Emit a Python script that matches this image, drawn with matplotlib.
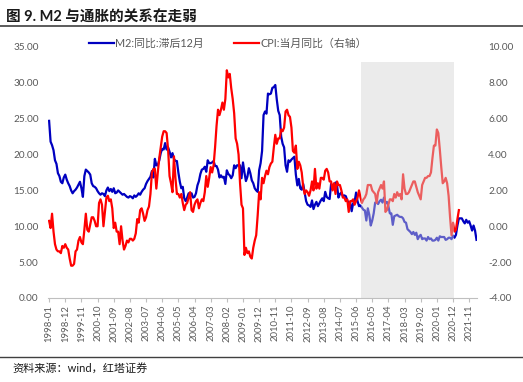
import numpy as np
import pandas as pd
import matplotlib
matplotlib.use('Agg')
import matplotlib.pyplot as plt
from matplotlib.lines import Line2D

plt.rcParams['font.family'] = ['Lato', 'Noto Sans CJK SC', 'DejaVu Sans']
plt.rcParams['axes.unicode_minus'] = False

# 月份：1998-01 ~ 2022-04
dates = pd.period_range('1998-01', '2022-04', freq='M').strftime('%Y-%m').tolist()

# M2 同比，滞后12个月（按绘图年份排列）
m2_lag = [
    24.7, 21.8, 21.3, 20.6, 19.2, 18.7, 17.4, 17.0, 16.2, 16.0, 16.8, 17.2,
    16.5, 16.0, 15.6, 15.0, 14.6, 14.9, 15.1, 15.4, 15.8, 16.2, 15.3, 14.1,
    17.0, 17.9, 17.7, 17.5, 17.2, 16.0, 15.6, 15.5, 15.3, 14.9, 14.6, 14.4,
    14.6, 14.5, 14.2, 15.0, 15.4, 14.9, 15.2, 14.8, 15.3, 14.6, 14.7, 15.0,
    14.8, 14.6, 14.4, 14.5, 14.3, 14.1, 14.0, 14.2, 14.1, 13.9, 14.3, 14.1,
    14.3, 14.6, 14.4, 14.8, 15.1, 15.3, 15.9, 16.3, 16.6, 16.9, 17.7, 16.8,
    19.4, 18.5, 18.5, 19.2, 20.2, 20.8, 20.7, 21.6, 20.7, 21.0, 20.4, 19.6,
    20.2, 19.4, 19.1, 19.1, 17.5, 16.2, 15.3, 15.5, 13.9, 13.5, 14.0, 14.6,
    14.1, 14.6, 14.0, 14.1, 14.6, 15.7, 16.3, 17.3, 17.9, 18.0, 18.3, 17.6,
    19.2, 18.8, 18.8, 18.9, 19.1, 18.4, 18.4, 17.9, 16.8, 17.1, 16.8, 16.9,
    15.9, 17.8, 17.3, 17.1, 16.7, 17.1, 18.5, 18.1, 18.5, 18.5, 18.5, 16.7,
    18.9, 17.5, 16.3, 16.9, 18.1, 17.4, 16.4, 16.0, 15.3, 15.0, 14.8, 17.8,
    18.8, 20.5, 25.5, 26.0, 25.7, 28.5, 28.4, 28.5, 29.3, 29.4, 29.7, 27.7,
    26.1, 25.5, 22.5, 21.5, 21.0, 18.5, 17.6, 19.2, 19.0, 19.3, 19.5, 19.7,
    17.2, 15.7, 16.6, 15.3, 15.1, 15.9, 14.7, 13.5, 13.0, 12.9, 12.7, 13.6,
    12.4, 13.0, 13.4, 12.8, 13.2, 13.6, 13.9, 13.5, 14.8, 14.1, 13.9, 13.8,
    15.9, 15.2, 15.7, 16.1, 15.8, 14.0, 14.5, 14.7, 14.2, 14.3, 14.2, 13.6,
    13.2, 13.3, 12.1, 13.2, 13.4, 14.7, 13.5, 12.8, 12.9, 12.6, 12.3, 12.2,
    10.8, 12.5, 11.6, 10.1, 10.8, 11.8, 13.3, 13.3, 13.1, 13.5, 13.7, 13.3,
    14.0, 13.3, 13.4, 12.8, 11.8, 11.8, 10.2, 11.4, 11.5, 11.6, 11.4, 11.3,
    11.3, 11.1, 10.6, 10.5, 9.6, 9.4, 9.2, 8.9, 9.2, 8.8, 9.1, 8.2,
    8.6, 8.8, 8.2, 8.3, 8.3, 8.0, 8.5, 8.2, 8.3, 8.0, 8.0, 8.1,
    8.4, 8.0, 8.6, 8.5, 8.5, 8.5, 8.1, 8.2, 8.4, 8.4, 8.2, 8.7,
    8.4, 8.8, 10.1, 11.1, 11.1, 11.1, 10.7, 10.4, 10.9, 10.5, 10.7, 10.1,
    9.4, 10.1, 9.4, 8.1,
]

# CPI 当月同比（右轴），1998-01 ~ 2021-04
cpi = [
    0.3, -0.1, 0.7, -0.3, -1.0, -1.3, -1.4, -1.4, -1.5, -1.1, -1.2, -1.0,
    -1.2, -1.3, -1.8, -2.2, -2.2, -2.1, -1.4, -1.3, -0.8, -0.6, -0.9, -1.0,
    -0.2, 0.7, -0.2, -0.3, 0.1, 0.5, 0.5, 0.3, 0.0, 0.0, 1.3, 1.5,
    1.2, 0.0, 0.8, 1.6, 1.7, 1.4, 1.5, 1.0, -0.1, 0.2, -0.3, -0.3,
    -1.0, 0.0, -0.8, -1.3, -1.1, -0.8, -0.9, -0.7, -0.7, -0.8, -0.7, -0.4,
    0.4, 0.2, 0.9, 1.0, 0.7, 0.3, 0.5, 0.9, 1.1, 1.8, 3.0, 3.2,
    3.2, 2.1, 3.0, 3.8, 4.4, 5.0, 5.3, 5.3, 5.2, 4.3, 2.8, 2.4,
    1.9, 3.9, 2.7, 1.8, 1.8, 1.6, 1.8, 1.3, 0.9, 1.2, 1.3, 1.6,
    1.9, 0.9, 0.8, 1.2, 1.4, 1.5, 1.0, 1.3, 1.5, 1.4, 1.9, 2.8,
    2.2, 2.7, 3.3, 3.0, 3.4, 4.4, 5.6, 6.5, 6.2, 6.5, 6.9, 6.5,
    7.1, 8.7, 8.3, 8.5, 7.7, 7.1, 6.3, 4.9, 4.6, 4.0, 2.4, 1.2,
    1.0, -1.6, -1.2, -1.5, -1.4, -1.7, -1.8, -1.2, -0.8, -0.5, 0.6, 1.9,
    1.5, 2.7, 2.4, 2.8, 3.1, 2.9, 3.3, 3.5, 3.6, 4.4, 5.1, 4.6,
    4.9, 4.9, 5.4, 5.3, 5.5, 6.4, 6.5, 6.2, 6.1, 5.5, 4.2, 4.1,
    4.5, 3.2, 3.6, 3.4, 3.0, 2.2, 1.8, 2.0, 1.9, 1.7, 2.0, 2.5,
    2.0, 3.2, 2.1, 2.4, 2.1, 2.7, 2.7, 2.6, 3.1, 3.2, 3.0, 2.5,
    2.5, 2.0, 2.4, 1.8, 2.5, 2.3, 2.3, 2.0, 1.6, 1.6, 1.4, 1.5,
    0.8, 1.4, 1.4, 1.5, 1.2, 1.4, 1.6, 2.0, 1.6, 1.3, 1.5, 1.6,
    1.8, 2.3, 2.3, 2.3, 2.0, 1.9, 1.8, 1.3, 1.9, 2.1, 2.3, 2.1,
    2.5, 0.8, 0.9, 1.2, 1.5, 1.5, 1.4, 1.8, 1.6, 1.9, 1.7, 1.8,
    1.5, 2.9, 2.1, 1.8, 1.8, 1.9, 2.1, 2.3, 2.5, 2.5, 2.2, 1.9,
    1.7, 1.5, 2.3, 2.5, 2.7, 2.7, 2.8, 2.8, 3.0, 3.8, 4.5, 4.5,
    5.4, 5.2, 4.3, 3.3, 2.4, 2.5, 2.7, 2.4, 1.7, 0.5, -0.5, 0.2,
    -0.3, -0.2, 0.4, 0.9,
]

shade_start = '2015-10'
shade_end = '2020-12'

x = np.arange(len(dates))
gray = '#595959'

fig = plt.figure(figsize=(5.23, 3.82), dpi=100)
ax = fig.add_axes([0.0925, 0.22, 0.82, 0.657])
ax2 = ax.twinx()

l1, = ax.plot(x[:len(m2_lag)], m2_lag, color='#0000c0', lw=1.6, label='M2:同比:滞后12月')
l2, = ax2.plot(x[:len(cpi)], cpi, color='#ff0000', lw=1.6, label='CPI:当月同比（右轴）')

ax.set_xlim(-0.5, len(dates) - 0.5)
ax.set_ylim(0, 35)
ax2.set_ylim(-4, 10)
ax.set_yticks(np.arange(0, 36, 5))
ax2.set_yticks(np.arange(-4, 11, 2))
ax.set_yticklabels(['%.2f' % v for v in np.arange(0, 36, 5)])
ax2.set_yticklabels(['%.2f' % v for v in np.arange(-4, 11, 2)])

# 阴影区
i0 = dates.index(shade_start)
i1 = dates.index(shade_end)
ax2.axvspan(i0 - 0.5, i1 + 0.5, ymin=0, ymax=0.94, color='#d3d3d3', alpha=0.45, lw=0, zorder=5)

ticks = x[::11]
ax.set_xticks(ticks)
ax.set_xticklabels([dates[i] for i in ticks], rotation=90, fontsize=6.8, color=gray)
ax.tick_params(axis='x', length=3, color='#bfbfbf', pad=2)
ax.tick_params(axis='y', length=0, labelsize=7.2, labelcolor=gray, pad=7)
ax2.tick_params(axis='y', length=0, labelsize=7.2, labelcolor=gray, pad=8)
ax2.tick_params(axis='x', length=0)

for a in (ax, ax2):
    for s in ['top', 'left', 'right', 'bottom']:
        a.spines[s].set_visible(False)
ax.spines['bottom'].set_visible(True)
ax.spines['bottom'].set_color('#bfbfbf')
ax.spines['bottom'].set_linewidth(0.8)

leg = fig.legend(handles=[l1, l2], loc='center', bbox_to_anchor=(0.436, 0.887), ncol=2,
                 frameon=False, fontsize=7.8, handlelength=2.3, handletextpad=0.1,
                 columnspacing=2.8)
for t in leg.get_texts():
    t.set_color(gray)

fig.text(0.012, 0.955, '图 9. M2 与通胀的关系在走弱', fontsize=10.5, fontweight='bold',
         va='center', ha='left', color='#1a1a1a')
fig.add_artist(Line2D([0, 1], [0.933, 0.933], transform=fig.transFigure, color='#404040', lw=1.2))
fig.add_artist(Line2D([0, 1], [0.066, 0.066], transform=fig.transFigure, color='#404040', lw=1.0))
fig.text(0.023, 0.036, '资料来源：wind，红塔证券', fontsize=8, va='center', ha='left', color='#1a1a1a')

fig.savefig('out.png', dpi=100)
